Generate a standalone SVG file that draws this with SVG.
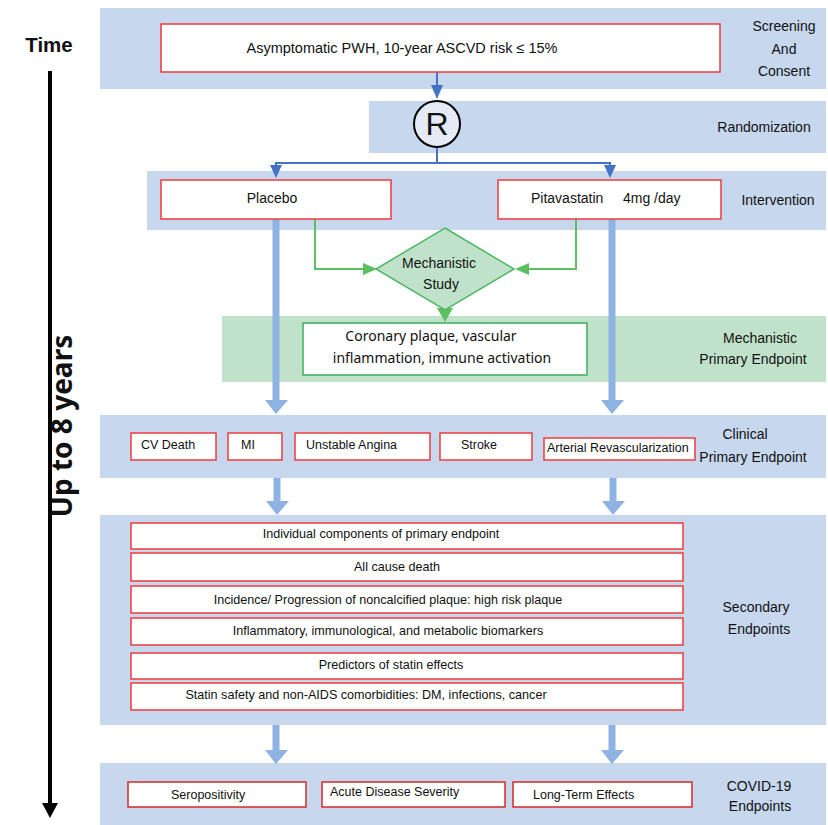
<svg xmlns="http://www.w3.org/2000/svg" width="828" height="825" viewBox="0 0 828 825">
<style>
.band{fill:#c6d7ee}
.gband{fill:#c1e2ca}
.rbox{fill:#fff;stroke:#ef3b3b;stroke-width:1.5}
.gbox{fill:#fff;stroke:#3cae5c;stroke-width:1.5}
text{font-family:"Liberation Sans",Arial,sans-serif;fill:#111}
.lbl{font-size:14px;text-anchor:middle}
.sm{font-size:12.5px}
.sec{font-size:12.6px;text-anchor:middle}
.blue{stroke:#4472c4;stroke-width:2;fill:none}
.thick{stroke:#8eb3e2;stroke-width:7;fill:none}
.thead{fill:#8eb3e2}
.bhead{fill:#4472c4}
.green{stroke:#5cbf62;stroke-width:2;fill:none}
.ghead{fill:#5cbf62}
</style>
<g id="bands">
<rect class="band" x="100" y="8" width="726" height="81"/>
<rect class="band" x="369" y="101" width="457" height="52"/>
<rect class="band" x="147" y="171" width="679" height="59"/>
<rect class="gband" x="222" y="316" width="604" height="66"/>
<rect class="band" x="100" y="415" width="726" height="63"/>
<rect class="band" x="100" y="515" width="726" height="210"/>
<rect class="band" x="100" y="763" width="726" height="62"/>
</g>
<g id="time-axis">
<text x="49" y="52" style="font-size:20.5px;font-weight:bold;text-anchor:middle">Time</text>
<line x1="50" y1="71" x2="50" y2="805" stroke="#000" stroke-width="4"/>
<polygon points="42,803 58,803 50,818" fill="#000"/>
<text transform="translate(72,426) rotate(-90)" style="font-family:'Noto Sans','Open Sans',sans-serif;font-size:28px;font-weight:bold;text-anchor:middle">Up to 8 years</text>
</g>
<g id="connectors">
<line class="blue" x1="437" y1="72" x2="437" y2="87"/>
<polygon class="bhead" points="431,85 443,85 437,99"/>
<polyline class="blue" points="437,147 437,163"/>
<polyline class="blue" points="276,166 276,163 610,163 610,166"/>
<polygon class="bhead" points="270,165 282,165 276,178"/>
<polygon class="bhead" points="604,165 616,165 610,178"/>
<line class="thick" x1="276" y1="219" x2="276" y2="401"/>
<polygon class="thead" points="265,400 288,400 276,414"/>
<line class="thick" x1="612" y1="219" x2="612" y2="401"/>
<polygon class="thead" points="601,400 624,400 612,414"/>
<line class="thick" x1="277" y1="478" x2="277" y2="502"/>
<polygon class="thead" points="266,501 289,501 277,515"/>
<line class="thick" x1="613" y1="478" x2="613" y2="502"/>
<polygon class="thead" points="602,501 625,501 613,515"/>
<line class="thick" x1="276" y1="725" x2="276" y2="751"/>
<polygon class="thead" points="265,750 288,750 276,764"/>
<line class="thick" x1="612" y1="725" x2="612" y2="751"/>
<polygon class="thead" points="601,750 624,750 612,764"/>
<polyline class="green" points="315,219 315,269 365,269"/>
<polygon class="ghead" points="363,263 363,275 377,269"/>
<polyline class="green" points="576,219 576,269 527,269"/>
<polygon class="ghead" points="529,263 529,275 515,269"/>
<polygon class="ghead" points="437,308 453,308 445,322"/>
</g>
<g id="screening">
<rect class="rbox" x="161" y="24" width="559" height="48"/>
<text class="lbl" x="402" y="53" style="font-size:14.5px">Asymptomatic PWH, 10-year ASCVD risk ≤ 15%</text>
<text class="lbl" x="784" y="31">Screening</text>
<text class="lbl" x="784" y="53.5">And</text>
<text class="lbl" x="784" y="76">Consent</text>
</g>
<g id="randomization">
<circle cx="437" cy="124" r="23" fill="#e4ebf7" stroke="#000" stroke-width="2"/>
<text x="437" y="135" style="font-size:32px;text-anchor:middle">R</text>
<text class="lbl" x="764" y="132">Randomization</text>
</g>
<g id="placebo">
<rect class="rbox" x="161" y="180" width="230" height="39"/>
<text class="lbl" x="272" y="203">Placebo</text>
</g>
<g id="pitavastatin">
<rect class="rbox" x="498" y="180" width="223" height="39"/>
<text style="font-size:14px" x="531" y="203">Pitavastatin<tspan x="623">4mg /day</tspan></text>
<text class="lbl" x="778" y="205">Intervention</text>
</g>
<g id="mechanistic-study">
<polygon points="445,228 514,269 445,310 376,269" fill="#c1e2ca" stroke="#4cb862" stroke-width="1.5"/>
<text class="lbl" x="439" y="268">Mechanistic</text>
<text class="lbl" x="441" y="289">Study</text>
</g>
<g id="mechanistic-endpoint">
<rect class="gbox" x="303" y="323" width="284" height="52"/>
<text style="font-family:'Noto Sans',sans-serif;font-size:14px;text-anchor:middle" x="431" y="341">Coronary plaque, vascular</text>
<text style="font-family:'Noto Sans',sans-serif;font-size:14px;text-anchor:middle" x="442" y="363">inflammation, immune activation</text>
<text class="lbl" x="760" y="343">Mechanistic</text>
<text class="lbl" x="753" y="364">Primary Endpoint</text>
</g>
<g id="clinical">
<rect class="rbox" x="131" y="433" width="85" height="27"/>
<text class="sm" x="141" y="449">CV Death</text>
<rect class="rbox" x="228" y="433" width="54" height="27"/>
<text class="sm" x="241" y="449">MI</text>
<rect class="rbox" x="295" y="433" width="135" height="27"/>
<text class="sm" x="306" y="449">Unstable Angina</text>
<rect class="rbox" x="440" y="433" width="92" height="27"/>
<text class="sm" x="479" y="449" text-anchor="middle">Stroke</text>
<rect class="rbox" x="544" y="438" width="151" height="22"/>
<text class="sm" x="547" y="452">Arterial Revascularization</text>
<text class="lbl" x="745" y="439">Clinical</text>
<text class="lbl" x="753" y="462">Primary Endpoint</text>
</g>
<g id="secondary">
<rect class="rbox" x="131" y="523" width="552" height="26"/>
<text class="sec" x="381" y="538">Individual components of primary endpoint</text>
<rect class="rbox" x="131" y="553" width="552" height="28"/>
<text class="sec" x="397" y="571">All cause death</text>
<rect class="rbox" x="131" y="586" width="552" height="27"/>
<text class="sec" x="388" y="604">Incidence/ Progression of noncalcified plaque: high risk plaque</text>
<rect class="rbox" x="131" y="618" width="552" height="27"/>
<text class="sec" x="388" y="635">Inflammatory, immunological, and metabolic biomarkers</text>
<rect class="rbox" x="131" y="653" width="552" height="26"/>
<text class="sec" x="391" y="669">Predictors of statin effects</text>
<rect class="rbox" x="131" y="683" width="552" height="27"/>
<text class="sec" x="366" y="699">Statin safety and non-AIDS comorbidities: DM, infections, cancer</text>
<text class="lbl" x="756" y="612">Secondary</text>
<text class="lbl" x="759" y="634">Endpoints</text>
</g>
<g id="covid">
<rect class="rbox" x="128" y="782" width="178" height="25" style="stroke:#d92828"/>
<text class="sm" x="171" y="799">Seropositivity</text>
<rect class="rbox" x="322" y="782" width="183" height="25" style="stroke:#d92828"/>
<text class="sm" x="330" y="796">Acute Disease Severity</text>
<rect class="rbox" x="513" y="782" width="179" height="25" style="stroke:#d92828"/>
<text class="sm" x="533" y="799">Long-Term Effects</text>
<text class="lbl" x="759" y="791">COVID-19</text>
<text class="lbl" x="760" y="811">Endpoints</text>
</g>
</svg>
